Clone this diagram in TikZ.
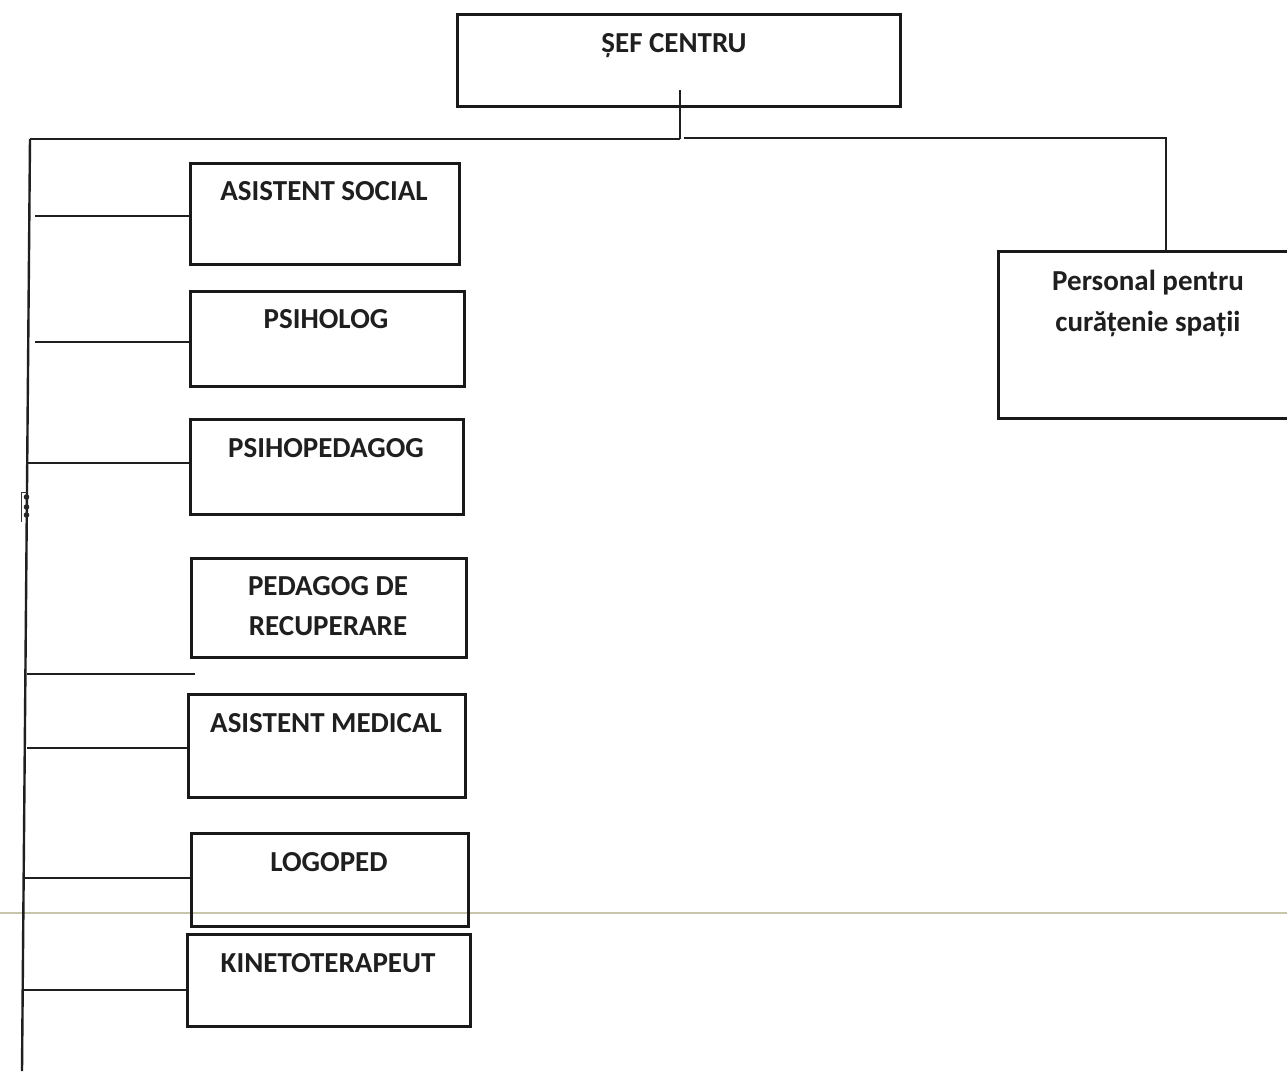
\documentclass[tikz,border=0pt]{standalone}
\usepackage{fontspec}
\setmainfont{Carlito}
\begin{document}
\begin{tikzpicture}[x=1pt,y=-1pt,
  box/.style={draw=black!90, line width=2.6pt, anchor=north west, inner sep=0pt},
  lbl/.style={font=\fontsize{29}{34}\selectfont\bfseries, text=black!88, anchor=base, inner sep=0pt},
  ln/.style={line width=2.4pt, draw=black!88}]
\useasboundingbox (0,0) rectangle (1287,1071);
\fill[white] (0,0) rectangle (1287,1071);
% scan line
\draw[line width=1.2pt, color={rgb,255:red,200;green,198;blue,170}] (0,913) -- (1287,913);
% boxes
\node[box, minimum width=443, minimum height=92] (sef) at (456,13) {};
\node[box, minimum width=269, minimum height=101] (as) at (189,162) {};
\node[box, minimum width=274, minimum height=95] (psi) at (189,290) {};
\node[box, minimum width=273, minimum height=95] (psp) at (189,418) {};
\node[box, minimum width=275, minimum height=99] (ped) at (190,557) {};
\node[box, minimum width=277, minimum height=103] (am) at (187,693) {};
\node[box, minimum width=277, minimum height=93] (log) at (190,832) {};
\node[box, minimum width=283, minimum height=92] (kin) at (186,933) {};
\node[box, minimum width=295, minimum height=167] (pc) at (997,250) {};
% labels
\node[lbl] (tsef) at (674,52) {ȘEF CENTRU};
\node[lbl] (tas) at (324,200) {ASISTENT SOCIAL};
\node[lbl] (tpsi) at (326,328) {PSIHOLOG};
\node[lbl] (tpsp) at (326,457) {PSIHOPEDAGOG};
\node[lbl] (tped1) at (328,595) {PEDAGOG DE};
\node[lbl] (tped2) at (328,635) {RECUPERARE};
\node[lbl] (tam) at (326,732) {ASISTENT MEDICAL};
\node[lbl] (tlog) at (329,871) {LOGOPED};
\node[lbl] (tkin) at (328,972) {KINETOTERAPEUT};
\node[lbl] (tpc1) at (1148,290) {Personal pentru};
\node[lbl] (tpc2) at (1148,331) {curățenie spații};
% connector coordinates
\coordinate (c0) at (680,90);
\coordinate (c1) at (680,139);
\coordinate (top) at (30,139);
\coordinate (bot) at (22,1071);
\coordinate (r0) at (684,138);
\coordinate (r1) at (1166,138);
\coordinate (r2) at (1166,250);
\draw[ln] (c0) -- (c1);
\draw[ln] (top) -- (c1);
\draw[ln] (r0) -- (r1) -- (r2);
\draw[ln] (top) -- (bot);
% branches
\coordinate (b1) at (35,216);
\coordinate (b2) at (35,342);
\coordinate (b3) at (27,463);
\coordinate (b4) at (27,674);
\coordinate (e4) at (195,674);
\coordinate (b5) at (27,748);
\coordinate (b6) at (23,878);
\coordinate (b7) at (23,990);
\draw[ln] (b1) -- (as.west |- b1);
\draw[ln] (b2) -- (psi.west |- b2);
\draw[ln] (b3) -- (psp.west |- b3);
\draw[ln] (b4) -- (e4);
\draw[ln] (b5) -- (am.west |- b5);
\draw[ln] (b6) -- (log.west |- b6);
\draw[ln] (b7) -- (kin.west |- b7);
% small marks on spine
\coordinate (m0) at (27,492);
\coordinate (m1) at (21,492);
\coordinate (m2) at (21,522);
\draw[line width=1pt, black!80] (m0) -- (m1) -- (m2);
\fill[black!85] (26.5,497) circle (2.8) (26.5,507) circle (2.8) (26.5,515) circle (2.8);
\end{tikzpicture}
\end{document}
